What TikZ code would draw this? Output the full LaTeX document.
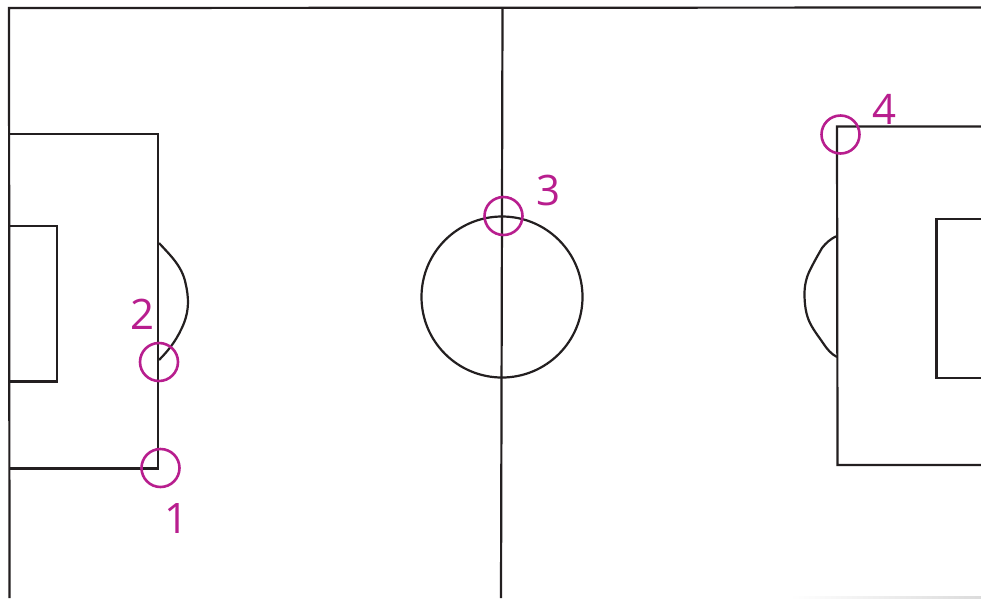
\documentclass[tikz,border=0pt]{standalone}
\usepackage{fontspec}
\setmainfont{Open Sans}
\definecolor{linecol}{HTML}{231F20}
\definecolor{markcol}{HTML}{B81E8E}
\tikzset{
  pitch/.style={draw=linecol,line width=2.2pt,line join=miter},
  ring/.style={draw=markcol,line width=2.6pt},
  numlabel/.style={text=markcol,inner sep=0pt,font=\fontsize{42}{42}\selectfont,anchor=center}
}
\begin{document}
\begin{tikzpicture}[x=1pt,y=-1pt]
\useasboundingbox (0,0) rectangle (981,598);
\fill[white] (0,0) rectangle (981,598);
\shade[left color=white,right color=black!14,shading angle=90] (790,596.8) rectangle (981,598);
% outline and halfway line
\draw[pitch] (9.5,598) -- (9,8) -- (981,7.5);
\draw[pitch] (502.5,8) -- (501,598);
% left boxes
\draw[pitch] (9,134) -- (158,134) -- (158,468.5) -- (9.5,468.5);
\draw[pitch] (9,226) -- (57,226) -- (57,381.5) -- (9.5,381.5);
\draw[pitch] (159,243) .. controls (170,255) and (182,266) .. (185.5,283)
  .. controls (189,298) and (189,310) .. (184,323)
  .. controls (178,338) and (170,349) .. (159,360);
% right boxes
\draw[pitch] (981,126.5) -- (837,126.5) -- (837.5,465) -- (981,465);
\draw[pitch] (981,219) -- (936.5,219) -- (936.5,378) -- (981,378);
\draw[pitch] (837,236) .. controls (830,239) and (826,243) .. (822,248)
  .. controls (818,255) and (814,262) .. (810,270)
  .. controls (806,278) and (804.5,286) .. (804.5,294)
  .. controls (804.5,305) and (806,315) .. (810,323)
  .. controls (814,331) and (819,337) .. (823,343)
  .. controls (827,349) and (831,354) .. (837,357);
% centre circle
\draw[pitch] (502,297) circle[radius=80.5];
% markers
\draw[ring] (159,362) circle[radius=19];
\draw[ring] (160.5,468) circle[radius=19];
\draw[ring] (503.5,216) circle[radius=19];
\draw[ring] (840.5,134.5) circle[radius=19];
\node[numlabel] (n1) at (177,518) {1};
\node[numlabel] (n2) at (142.5,314) {2};
\node[numlabel] (n3) at (548,190) {3};
\node[numlabel] (n4) at (884,109) {4};
\end{tikzpicture}
\end{document}
